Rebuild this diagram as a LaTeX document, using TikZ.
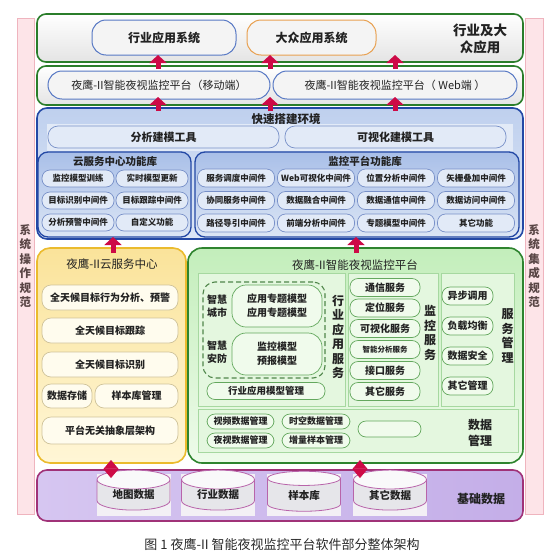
\documentclass[tikz,border=0pt]{standalone}
\usepackage{fontspec}
\setmainfont{Noto Sans CJK SC}
\usetikzlibrary{arrows.meta,shapes.geometric,calc}
\definecolor{txt}{HTML}{222222}
\definecolor{pinkF}{HTML}{FDE4E8}
\definecolor{pinkB}{HTML}{EFB4BE}
\definecolor{pinkT}{HTML}{5A4646}
\definecolor{grnB}{HTML}{2A7D2A}
\definecolor{topF}{HTML}{E4E4E4}
\definecolor{blueL}{HTML}{5778C4}
\definecolor{orangeL}{HTML}{E8A050}
\definecolor{blueB}{HTML}{2348A5}
\definecolor{blueFt}{HTML}{BFD0EE}
\definecolor{blueFb}{HTML}{DCE6F6}
\definecolor{libFt}{HTML}{A9BFE8}
\definecolor{libFb}{HTML}{DCE6F5}
\definecolor{pillF}{HTML}{E2EAF7}
\definecolor{pillB}{HTML}{7890C8}
\definecolor{yelB}{HTML}{EBBB2D}
\definecolor{yelFt}{HTML}{FAE39A}
\definecolor{yelFb}{HTML}{FFF6D6}
\definecolor{ybtnF}{HTML}{FFFCEE}
\definecolor{ybtnB}{HTML}{CFC39A}
\definecolor{gB}{HTML}{2E842E}
\definecolor{gFt}{HTML}{C3EEBB}
\definecolor{gFb}{HTML}{EEFBEA}
\definecolor{panF}{HTML}{E4F7DF}
\definecolor{panB}{HTML}{A6D8A0}
\definecolor{gbtnF}{HTML}{F0FBEC}
\definecolor{gbtnB}{HTML}{64A85E}
\definecolor{purB}{HTML}{A03278}
\definecolor{purFl}{HTML}{D6C6F1}
\definecolor{purFr}{HTML}{C4AEE8}
\definecolor{cylB}{HTML}{B864AA}
\definecolor{cylF}{HTML}{E6E6EA}
\definecolor{cylBg}{HTML}{F3F0F5}
\definecolor{arrowred}{HTML}{CD0A46}
\definecolor{capT}{HTML}{2A2A2A}
\tikzset{
  base/.style={inner sep=0pt, outer sep=0pt, align=center, text=txt},
  fs/.style={font=\fontsize{#1}{14}\selectfont\bfseries},
  fr/.style={font=\fontsize{#1}{14}\selectfont},
  pinkbar/.style={base, draw=pinkB, fill=pinkF, line width=0.8pt, text=pinkT,
     font=\fontsize{11.5}{14.5}\selectfont\bfseries},
  greenbox/.style={base, draw=grnB, line width=1.6pt, rounded corners=9pt,
     top color=white, bottom color=topF},
  toppill/.style={base, line width=1pt, rounded corners=14pt, fill=white!60!topF},
  bluebox/.style={base, draw=blueB, line width=1.6pt, rounded corners=10pt,
     top color=blueFt, bottom color=blueFb},
  libbox/.style={base, draw=blueB, line width=1.3pt, rounded corners=10pt,
     top color=libFt, bottom color=libFb},
  bpill/.style={base, draw=pillB, line width=0.7pt, fill=pillF, rounded corners=8pt, fs=8.5},
  bigpill/.style={base, draw=pillB, line width=0.7pt, fill=pillF, rounded corners=10pt, fs=11},
  yelbox/.style={base, draw=yelB, line width=1.6pt, rounded corners=13pt,
     top color=yelFt, bottom color=yelFb},
  ybtn/.style={base, draw=ybtnB, line width=0.7pt, fill=ybtnF, rounded corners=9pt, fs=10},
  grnbox/.style={base, draw=gB, line width=1.6pt, rounded corners=14pt,
     top color=gFt, bottom color=gFb},
  panel/.style={base, draw=panB, line width=0.8pt, fill=panF},
  gbtn/.style={base, draw=gbtnB, line width=0.7pt, fill=gbtnF, rounded corners=8pt, fs=10},
  purbox/.style={base, draw=purB, line width=1.6pt, rounded corners=10pt,
     left color=purFl, right color=purFr},
  cyl/.style={base, cylinder, shape border rotate=90, aspect=0.45, draw=cylB, line width=0.8pt,
     cylinder uses custom fill, cylinder body fill=cylF, cylinder end fill=white!75!cylF, fs=10.5},
  uparrow/.style 2 args={draw=arrowred, line width=5pt, -{Triangle[width=17pt,length=8pt]},
     shorten <=#1, shorten >=#2},
  dblarrow/.style={draw=arrowred, line width=0.6pt,
     {Triangle[width=15pt,length=9pt]}-{Triangle[width=15pt,length=9pt]},
     shorten <=-3pt, shorten >=-8pt},
}
\begin{document}
\begin{tikzpicture}[x=1pt,y=-1pt]
\useasboundingbox (0,0) rectangle (554,552);
\fill[white] (0,0) rectangle (554,552);

% side bars
\node[pinkbar, minimum width=17, minimum height=496] (pl) at (25.5,266) {系\\统\\操\\作\\规\\范};
\node[pinkbar, minimum width=18, minimum height=496] (pr) at (534,266) {系\\统\\集\\成\\规\\范};

% top layer
\node[greenbox, minimum width=486, minimum height=48] (T) at (280,38) {};
\node[toppill, draw=blueL, minimum width=144, minimum height=35, fs=12] (A1) at (164,37.5) {行业应用系统};
\node[toppill, draw=orangeL, minimum width=129, minimum height=35, fs=12] (A2) at (311.5,37.5) {大众应用系统};
\node[base, font=\fontsize{13.5}{17}\selectfont\bfseries] (At) at (480,39) {行业及大\\众应用};

\node[greenbox, minimum width=486, minimum height=39] (M) at (280,85.5) {};
\node[toppill, draw=blueL, minimum width=222, minimum height=28, fr=11] (M1) at (159,85) {夜鹰-II智能夜视监控平台（移动端）};
\node[toppill, draw=blueL, minimum width=244, minimum height=28, fr=11] (M2) at (395,85) {夜鹰-II智能夜视监控平台（ Web端 ）};

% blue layer
\node[bluebox, minimum width=486, minimum height=131] (B) at (280,173.5) {};
\node[base, fs=11.5] (Bt) at (286,119.5) {快速搭建环境};
\node[base, fill=white!55!blueFt, minimum width=466, minimum height=27] (Bband) at (280,137) {};
\node[bigpill, minimum width=231, minimum height=22] (B1) at (163.5,137) {分析建模工具};
\node[bigpill, minimum width=221, minimum height=22] (B2) at (395.5,137) {可视化建模工具};

\node[libbox, minimum width=153, minimum height=85] (C) at (114.5,194.5) {};
\node[base, fs=10.5] (Ct) at (115,161.5) {云服务中心功能库};
\foreach \n/\x/\y/\t in {c11/78/178.5/监控模型训练, c12/152/178.5/实时模型更新,
   c21/78/200.5/目标识别中间件, c22/152/200.5/目标跟踪中间件,
   c31/78/222.5/分析预警中间件, c32/152/222.5/自定义功能}
  \node[bpill, minimum width=72, minimum height=17] (\n) at (\x,\y) {\t};

\node[libbox, minimum width=324, minimum height=85] (D) at (357,194.5) {};
\node[base, fs=10.5] (Dt) at (365,161) {监控平台功能库};
\foreach \n/\x/\y/\t in {d11/236/178/服务调度中间件, d12/316/178/Web可视化中间件, d13/396/178/位置分析中间件, d14/476/178/矢栅叠加中间件,
   d21/236/200.5/协同服务中间件, d22/316/200.5/数据融合中间件, d23/396/200.5/数据通信中间件, d24/476/200.5/数据访问中间件,
   d31/236/223/路径导引中间件, d32/316/223/前端分析中间件, d33/396/223/专题模型中间件, d34/476/223/其它功能}
  \node[bpill, minimum width=77, minimum height=18] (\n) at (\x,\y) {\t};

% yellow cloud center
\node[yelbox, minimum width=149, minimum height=215] (Y) at (111.5,355.5) {};
\node[base, fr=11.5] (Yt) at (112,264) {夜鹰-II云服务中心};
\node[ybtn, minimum width=136, minimum height=25] (Y1) at (110,297.5) {全天候目标行为分析、预警};
\node[ybtn, minimum width=136, minimum height=25] (Y2) at (110,330.5) {全天候目标跟踪};
\node[ybtn, minimum width=136, minimum height=25] (Y3) at (110,364.5) {全天候目标识别};
\node[ybtn, minimum width=50, minimum height=24] (Y4) at (67,396) {数据存储};
\node[ybtn, minimum width=83, minimum height=24] (Y5) at (136.5,396) {样本库管理};
\node[ybtn, minimum width=136, minimum height=27] (Y6) at (110,430.5) {平台无关抽象层架构};

% green platform
\node[grnbox, minimum width=335, minimum height=215] (G) at (355.5,355.5) {};
\node[base, fr=11.5] (Gt) at (355,265) {夜鹰-II智能夜视监控平台};

\node[panel, minimum width=147, minimum height=133] (P1) at (271.5,339.5) {};
\node[base, draw=gbtnB!80!black, dash pattern=on 5pt off 3pt, line width=1.1pt, rounded corners=12pt,
   minimum width=122, minimum height=96] (Pd) at (264,330) {};
\node[gbtn, rounded corners=14pt, minimum width=90, minimum height=42, font=\fontsize{10}{14}\selectfont\bfseries] (Q1) at (277,306) {应用专题模型\\应用专题模型};
\node[gbtn, rounded corners=14pt, minimum width=90, minimum height=42, font=\fontsize{10}{14}\selectfont\bfseries] (Q2) at (277,354) {监控模型\\预报模型};
\node[base, font=\fontsize{10}{13}\selectfont\bfseries] (Z1) at (217,306) {智慧\\城市};
\node[base, font=\fontsize{10}{13}\selectfont\bfseries] (Z2) at (217,352) {智慧\\安防};
\node[base, font=\fontsize{12}{14.5}\selectfont\bfseries] (V1) at (338,337) {行\\业\\应\\用\\服\\务};
\node[gbtn, minimum width=118, minimum height=17, fs=9.5] (Q3) at (266,391) {行业应用模型管理};

\node[panel, minimum width=90, minimum height=133] (P2) at (393,339.5) {};
\foreach \n/\y/\t in {s1/287.5/通信服务, s2/308/定位服务, s3/328.5/可视化服务, s5/370.5/接口服务, s6/391.5/其它服务}
  \node[gbtn, minimum width=70, minimum height=18] (\n) at (385,\y) {\t};
\node[gbtn, minimum width=70, minimum height=18, fs=7.5] (s4) at (385,349.5) {智能分析服务};
\node[base, font=\fontsize{12}{14.5}\selectfont\bfseries] (V2) at (430,333) {监\\控\\服\\务};

\node[panel, minimum width=73, minimum height=133] (P3) at (477.5,339.5) {};
\foreach \n/\y/\t in {m1/296/异步调用, m2/326/负载均衡, m3/356/数据安全, m4/386/其它管理}
  \node[gbtn, minimum width=51, minimum height=18] (\n) at (467.5,\y) {\t};
\node[base, font=\fontsize{12}{14.5}\selectfont\bfseries] (V3) at (507.5,336) {服\\务\\管\\理};

\node[panel, minimum width=320, minimum height=43] (P4) at (358,430.5) {};
\node[gbtn, minimum width=67, minimum height=15, fs=9] (k1) at (240.5,421.5) {视频数据管理};
\node[gbtn, minimum width=67, minimum height=15, fs=9] (k2) at (240.5,440.5) {夜视数据管理};
\node[gbtn, minimum width=68, minimum height=15, fs=9] (k3) at (316,421.5) {时空数据管理};
\node[gbtn, minimum width=68, minimum height=15, fs=9] (k4) at (316,440.5) {增量样本管理};
\node[gbtn, minimum width=63, minimum height=16] (k5) at (389.5,429) {};
\node[base, font=\fontsize{12}{16}\selectfont\bfseries] (V4) at (480,433) {数据\\管理};

% purple base data
\node[purbox, minimum width=486, minimum height=51] (U) at (280,495.5) {};
\node[base, fs=12] (Ut) at (481,498.5) {基础数据};
\foreach \n/\x/\t in {1/133.5/地图数据, 2/218/行业数据, 3/304/样本库, 4/390/其它数据}{
  \node[base, fill=cylBg, minimum width=74, minimum height=42] (bg\n) at (\x,495) {};
  \node[cyl, minimum height=40, minimum width=73] (cy\n) at (\x,495) {\t};
}

% arrows
\coordinate (xa) at (158,0);
\coordinate (xb) at (270,0);
\coordinate (xc) at (395,0);
\coordinate (xd) at (113,0);
\coordinate (xe) at (356,0);
\coordinate (xf) at (111,0);
\coordinate (xg) at (360,0);
\foreach \c in {xa,xb,xc}{
  \draw[uparrow={-3pt}{-7pt}] (M.north -| \c) -- (T.south -| \c);
  \draw[uparrow={-3pt}{-8pt}] (B.north -| \c) -- (M.south -| \c);
}
\draw[uparrow={-5pt}{-2pt}] (Y.north -| xd) -- (B.south -| xd);
\draw[uparrow={-5pt}{-2pt}] (G.north -| xe) -- (B.south -| xe);
\draw[dblarrow] (Y.south -| xf) -- (U.north -| xf);
\draw[dblarrow] (G.south -| xg) -- (U.north -| xg);

% caption
\node[base, text=capT, font=\fontsize{13}{15}\selectfont] (cap) at (282,545) {图 1 夜鹰-II 智能夜视监控平台软件部分整体架构};
\end{tikzpicture}
\end{document}
